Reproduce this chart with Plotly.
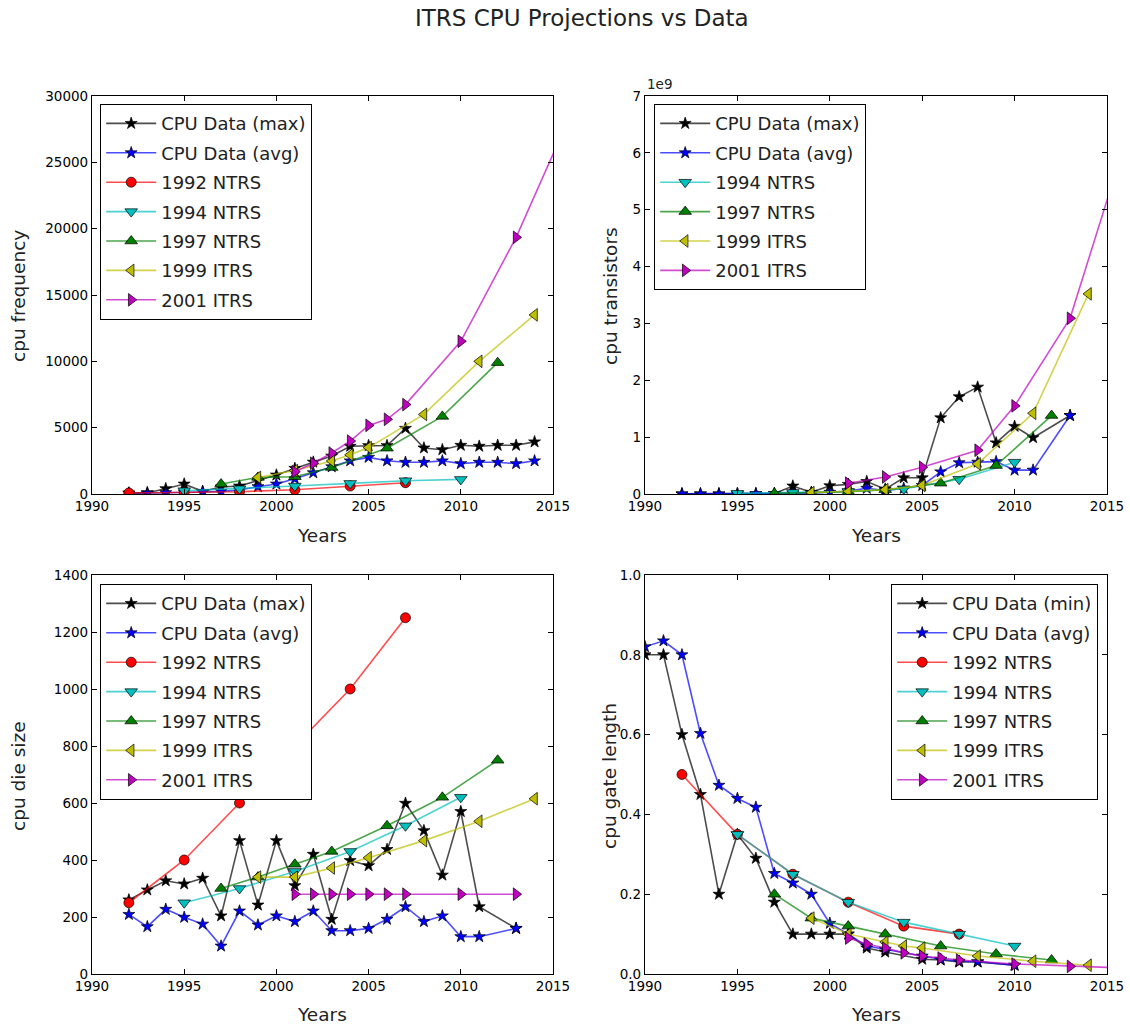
import plotly.graph_objects as go

# ---------------- data ----------------
CPU_YEARS = list(range(1990, 2015))
FREQ_MAX = [None, None, 80, 100, 400, 750, 200, 530, 600, 1000, 1430, 1930, 2400, 2860,
            3600, 3650, 3650, 4950, 3470, 3340, 3670, 3600, 3670, 3670, 3930]
FREQ_AVG = [None, None, 40, 60, 100, 150, 150, 200, 300, 550, 750, 1150, 1600, 2050,
            2500, 2760, 2500, 2390, 2390, 2500, 2290, 2390, 2390, 2290, 2500]
# transistor counts in units of 1e9
TRANS_MAX = [None, None, 0.003, 0.003, 0.003, 0.0055, 0.0055, 0.0075, 0.14, 0.03, 0.145, 0.17,
             0.22, 0.085, 0.285, 0.285, 1.34, 1.71, 1.88, 0.9, 1.19, 0.99, None, 1.38, None]
TRANS_AVG = [None, None, 0.002, 0.002, 0.002, 0.003, 0.004, 0.006, 0.01, 0.015, 0.03, 0.05,
             0.1, 0.06, 0.1, 0.15, 0.39, 0.55, 0.56, 0.57, 0.42, 0.42, None, 1.38, None]
DIE_MAX = [None, None, 260, 295, 327, 316, 336, 204, 468, 242, 468, 310, 420, 192, 398, 380,
           437, 599, 503, 347, 570, 236, None, 160, None]
DIE_AVG = [None, None, 209, 166, 227, 199, 175, 98, 221, 172, 204, 184, 221, 152, 152, 160,
           192, 236, 184, 204, 131, 131, None, 160, None]
GATE_MIN = [0.8, 0.8, 0.6, 0.45, 0.2, 0.35, 0.29, 0.18, 0.1, 0.1, 0.1, 0.1, 0.065, 0.055, None,
            0.037, 0.035, 0.03, 0.03, None, 0.022, None, None, None, None]
GATE_AVG = [0.82, 0.835, 0.8, 0.603, 0.473, 0.44, 0.418, 0.252, 0.228, 0.2, 0.127, 0.1, 0.07,
            0.062, None, 0.045, 0.037, 0.032, 0.031, None, 0.022, None, None, None, None]

NTRS92_YEARS = [1992, 1995, 1998, 2001, 2004, 2007]
NTRS92_FREQ = [80, 125, 175, 320, 600, 850]
NTRS92_DIE = [250, 400, 600, 800, 1000, 1250]
NTRS92_GATE = [0.5, 0.35, 0.25, 0.18, 0.12, 0.10]

NTRS94_YEARS = [1995, 1998, 2001, 2004, 2007, 2010]
NTRS94_FREQ = [250, 400, 600, 800, 1000, 1100]
NTRS94_TRANS = [0.012, 0.028, 0.045, 0.09, 0.26, 0.56]
NTRS94_DIE = [250, 300, 360, 430, 520, 620]
NTRS94_GATE = [0.35, 0.25, 0.18, 0.13, 0.10, 0.07]

NTRS97_YEARS = [1997, 1999, 2001, 2003, 2006, 2009, 2012]
NTRS97_FREQ = [750, 1250, 1300, 2000, 3450, 5850, 9900]
NTRS97_TRANS = [0.011, 0.021, 0.04, 0.076, 0.19, 0.5, 1.38]
NTRS97_DIE = [300, 340, 385, 430, 520, 620, 750]
NTRS97_GATE = [0.20, 0.14, 0.12, 0.10, 0.07, 0.05, 0.035]

ITRS99_YEARS = [1999, 2001, 2003, 2004, 2005, 2008, 2011, 2014]
ITRS99_FREQ = [1250, 1767, 2490, 2950, 3500, 6000, 10000, 13500]
ITRS99_TRANS = [0.024, 0.048, 0.076, None, 0.15, 0.53, 1.42, 3.52]
ITRS99_DIE = [340, 340, 372, None, 408, 468, 536, 615]
ITRS99_GATE = [0.14, 0.10, 0.08, 0.07, 0.065, 0.045, 0.032, 0.022]

ITRS01_YEARS = [2001, 2002, 2003, 2004, 2005, 2006, 2007, 2008, 2010, 2013, 2016]
ITRS01_FREQ = [1684, 2317, 3088, 3990, 5173, 5631, 6739, None, 11511, 19348, 28751]
ITRS01_TRANS = [0.19, None, 0.3, None, 0.47, None, None, 0.77, 1.55, 3.09, 6.2]
ITRS01_DIE = [280, 280, 280, 280, 280, 280, 280, None, 280, 280, None]
ITRS01_GATE = [0.09, 0.075, 0.065, 0.053, 0.045, 0.04, 0.035, None, 0.025, 0.019, 0.015]

# ---------------- styling ----------------
W, H = 1130, 1026
FONT = "DejaVu Sans"

STYLE = {
    "max":  dict(line="rgba(0,0,0,0.7)", fill="black", symbol="star", size=9),
    "avg":  dict(line="rgba(0,0,255,0.7)", fill="#0000ff", symbol="star", size=9),
    "n92":  dict(line="rgba(255,0,0,0.7)", fill="#ff0000", symbol="circle", size=10),
    "n94":  dict(line="rgba(0,191,191,0.7)", fill="#00bfbf", symbol="triangle-down", size=11),
    "n97":  dict(line="rgba(0,128,0,0.7)", fill="#008000", symbol="triangle-up", size=11),
    "i99":  dict(line="rgba(191,191,0,0.7)", fill="#bfbf00", symbol="triangle-left", size=11),
    "i01":  dict(line="rgba(191,0,191,0.7)", fill="#bf00bf", symbol="triangle-right", size=11),
}

fig = go.Figure()
_count = [0]


def add(key, name, x, y, ax, legend):
    s = STYLE[key]
    _count[0] += 1
    fig.add_trace(go.Scatter(
        x=x, y=y, name=name, mode="lines+markers", connectgaps=True,
        line=dict(color=s["line"], width=1.6),
        marker=dict(symbol=s["symbol"], size=s["size"], color=s["fill"],
                    line=dict(color="black", width=0.7)),
        xaxis="x" + ax, yaxis="y" + ax, legend=legend,
        legendgroup="g%d" % _count[0],
    ))


# panel 1: frequency
add("max", "CPU Data (max)", CPU_YEARS, FREQ_MAX, "", "legend")
add("avg", "CPU Data (avg)", CPU_YEARS, FREQ_AVG, "", "legend")
add("n92", "1992 NTRS", NTRS92_YEARS, NTRS92_FREQ, "", "legend")
add("n94", "1994 NTRS", NTRS94_YEARS, NTRS94_FREQ, "", "legend")
add("n97", "1997 NTRS", NTRS97_YEARS, NTRS97_FREQ, "", "legend")
add("i99", "1999 ITRS", ITRS99_YEARS, ITRS99_FREQ, "", "legend")
add("i01", "2001 ITRS", ITRS01_YEARS, ITRS01_FREQ, "", "legend")
# panel 2: transistors
add("max", "CPU Data (max)", CPU_YEARS, TRANS_MAX, "2", "legend2")
add("avg", "CPU Data (avg)", CPU_YEARS, TRANS_AVG, "2", "legend2")
add("n94", "1994 NTRS", NTRS94_YEARS, NTRS94_TRANS, "2", "legend2")
add("n97", "1997 NTRS", NTRS97_YEARS, NTRS97_TRANS, "2", "legend2")
add("i99", "1999 ITRS", ITRS99_YEARS, ITRS99_TRANS, "2", "legend2")
add("i01", "2001 ITRS", ITRS01_YEARS, ITRS01_TRANS, "2", "legend2")
# panel 3: die size
add("max", "CPU Data (max)", CPU_YEARS, DIE_MAX, "3", "legend3")
add("avg", "CPU Data (avg)", CPU_YEARS, DIE_AVG, "3", "legend3")
add("n92", "1992 NTRS", NTRS92_YEARS, NTRS92_DIE, "3", "legend3")
add("n94", "1994 NTRS", NTRS94_YEARS, NTRS94_DIE, "3", "legend3")
add("n97", "1997 NTRS", NTRS97_YEARS, NTRS97_DIE, "3", "legend3")
add("i99", "1999 ITRS", ITRS99_YEARS, ITRS99_DIE, "3", "legend3")
add("i01", "2001 ITRS", ITRS01_YEARS, ITRS01_DIE, "3", "legend3")
# panel 4: gate length
add("max", "CPU Data (min)", CPU_YEARS, GATE_MIN, "4", "legend4")
add("avg", "CPU Data (avg)", CPU_YEARS, GATE_AVG, "4", "legend4")
add("n92", "1992 NTRS", NTRS92_YEARS, NTRS92_GATE, "4", "legend4")
add("n94", "1994 NTRS", NTRS94_YEARS, NTRS94_GATE, "4", "legend4")
add("n97", "1997 NTRS", NTRS97_YEARS, NTRS97_GATE, "4", "legend4")
add("i99", "1999 ITRS", ITRS99_YEARS, ITRS99_GATE, "4", "legend4")
add("i01", "2001 ITRS", ITRS01_YEARS, ITRS01_GATE, "4", "legend4")

PANELS = [(92, 553, 96, 494), (645, 1107, 96, 494), (92, 553, 575, 974), (645, 1107, 575, 974)]
YRANGES = [(0, 30000, 5000, "d"), (0, 7, 1, "d"), (0, 1400, 200, "d"), (0, 1.0, 0.2, ".1f")]

axis_common = dict(showline=True, linecolor="black", linewidth=1.2, mirror="allticks",
                   ticks="inside", ticklen=5, tickwidth=1, tickcolor="black",
                   showgrid=False, zeroline=False, automargin=False,
                   tickfont=dict(family=FONT, size=13.5, color="black"))

layout = dict(width=W, height=H, autosize=False,
              margin=dict(l=0, r=0, t=0, b=0, pad=0, autoexpand=False),
              paper_bgcolor="white", plot_bgcolor="white",
              font=dict(family=FONT, color="black"))

for i, ((x0, x1, y0, y1), (ymin, ymax, dt, fmt)) in enumerate(zip(PANELS, YRANGES)):
    sfx = "" if i == 0 else str(i + 1)
    layout["xaxis" + sfx] = dict(axis_common, domain=[x0 / W, x1 / W], range=[1990, 2015],
                                 tick0=1990, dtick=5, tickformat="d", anchor="y" + sfx)
    layout["yaxis" + sfx] = dict(axis_common, domain=[1 - y1 / H, 1 - y0 / H],
                                 range=[ymin, ymax], tick0=0, dtick=dt, tickformat=fmt,
                                 anchor="x" + sfx)

legend_common = dict(bgcolor="white", bordercolor="black", borderwidth=1.2,
                     font=dict(family=FONT, size=18, color="#222"),
                     itemwidth=50, tracegroupgap=3)
layout["legend"] = dict(legend_common, x=100 / W, y=1 - 104 / H, xanchor="left", yanchor="top")
layout["legend2"] = dict(legend_common, x=654 / W, y=1 - 104 / H, xanchor="left", yanchor="top")
layout["legend3"] = dict(legend_common, x=100 / W, y=1 - 584 / H, xanchor="left", yanchor="top")
layout["legend4"] = dict(legend_common, x=1098 / W, y=1 - 584 / H, xanchor="right", yanchor="top")

fig.update_layout(**layout)

ann = []
ann.append(dict(text="ITRS CPU Projections vs Data", x=582 / W, y=1 - 18 / H, xref="paper",
                yref="paper", xanchor="center", yanchor="middle", showarrow=False,
                font=dict(family=FONT, size=23, color="#222")))
for cx, cy in [(322, 535), (876, 535), (322, 1014), (876, 1014)]:
    ann.append(dict(text="Years", x=cx / W, y=1 - cy / H, xref="paper", yref="paper",
                    xanchor="center", yanchor="middle", showarrow=False,
                    font=dict(family=FONT, size=18.5, color="#222")))
for txt, cx, cy in [("cpu frequency", 18, 296), ("cpu transistors", 610, 296),
                    ("cpu die size", 18, 776), ("cpu gate length", 609, 776)]:
    ann.append(dict(text=txt, x=cx / W, y=1 - cy / H, xref="paper", yref="paper",
                    xanchor="center", yanchor="middle", textangle=-90, showarrow=False,
                    font=dict(family=FONT, size=18.5, color="#222")))
ann.append(dict(text="1e9", x=645 / W, y=1 - 94 / H, xref="paper", yref="paper",
                xanchor="left", yanchor="bottom", showarrow=False,
                font=dict(family=FONT, size=13.5, color="#222")))
fig.update_layout(annotations=ann)

fig.write_html("out.html",
               config={"displayModeBar": False},
               post_script="document.body.style.margin='0px';"
                           "document.body.style.overflow='hidden';")
